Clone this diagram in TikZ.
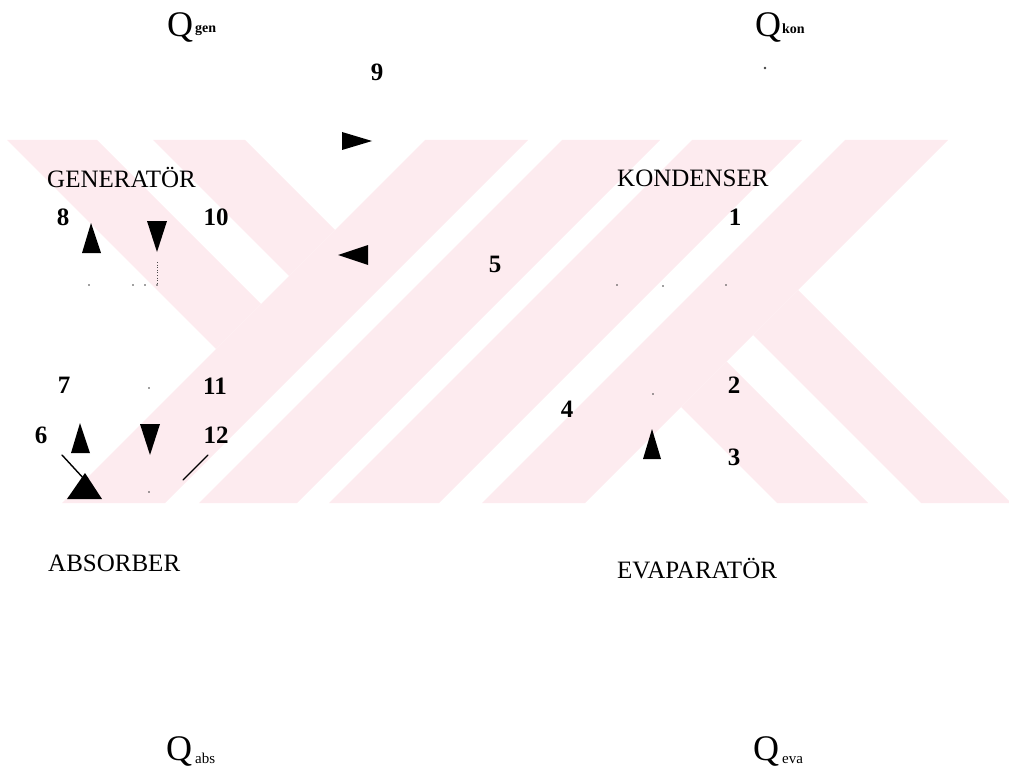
\documentclass[tikz,border=0pt]{standalone}
\usepackage{fontspec}
\setmainfont{Liberation Serif}
\definecolor{wm}{RGB}{253,235,239}
\tikzset{
  lbl/.style={font=\fontsize{25}{30}\selectfont, inner sep=0pt, anchor=base west},
  num/.style={font=\fontsize{25}{30}\selectfont\bfseries, inner sep=0pt, anchor=base},
  bigq/.style={font=\fontsize{36}{40}\selectfont, inner sep=0pt, anchor=base west},
  subb/.style={font=\fontsize{14}{16}\selectfont\bfseries, inner sep=0pt, anchor=base west},
  subr/.style={font=\fontsize{15}{17}\selectfont, inner sep=0pt, anchor=base west},
  tri/.style={fill=black},
  speck/.style={fill=black!75},
  stroke/.style={line width=1.4pt, line cap=round}
}
\begin{document}
\begin{tikzpicture}[x=1pt,y=-1pt]
\useasboundingbox (0,0) rectangle (1009,773);
% watermark
\begin{scope}
\clip (0,140) rectangle (1009,503);
\fill[wm] (7,140) -- (97,140) -- (261,304) -- (216,349) -- cycle;
\fill[wm] (153,140) -- (245,140) -- (335,230) -- (289,276) -- cycle;
\fill[wm] (425,140) -- (528,140) -- (165,503) -- (62,503) -- cycle;
\fill[wm] (562,140) -- (660,140) -- (297,503) -- (199,503) -- cycle;
\fill[wm] (692,140) -- (802,140) -- (439,503) -- (329,503) -- cycle;
\fill[wm] (845,140) -- (948,140) -- (585,503) -- (482,503) -- cycle;
\fill[wm] (681,407) -- (726.5,361.5) -- (868,503) -- (777,503) -- cycle;
\fill[wm] (753,335) -- (798,290) -- (1011,503) -- (921,503) -- cycle;
\end{scope}
% heat labels
\node[bigq] (qgen) at (167,37) {Q};
\node[subb] (qgens) at (195,33) {gen};
\node[bigq] (qkon) at (755,37) {Q};
\node[subb] (qkons) at (782,34) {kon};
\node[bigq] (qabs) at (166,760) {Q};
\node[subr] (qabss) at (195,763) {abs};
\node[bigq] (qeva) at (753,760) {Q};
\node[subr] (qevas) at (782,763) {eva};
% component labels
\node[lbl] (gen) at (47,187) {GENERATÖR};
\node[lbl] (kon) at (617,186) {KONDENSER};
\node[lbl] (abs) at (48,571) {ABSORBER};
\node[lbl] (eva) at (617,578) {EVAPARATÖR};
% state numbers
\node[num] (n9) at (377,81) {9};
\node[num] (n8) at (63,225) {8};
\node[num] (n10) at (216,225) {10};
\node[num] (n5) at (495,272) {5};
\node[num] (n1) at (735,225) {1};
\node[num] (n7) at (64,393) {7};
\node[num] (n11) at (215,394) {11};
\node[num] (n6) at (41,443) {6};
\node[num] (n12) at (216,443) {12};
\node[num] (n2) at (734,393) {2};
\node[num] (n3) at (734,465) {3};
\node[num] (n4) at (567,417) {4};
% arrowheads
\fill[tri] (342,132) -- (372,141) -- (342,150) -- cycle;
\fill[tri] (368,245) -- (338,255) -- (368,265) -- cycle;
\fill[tri] (91,223) -- (101,253) -- (82,253) -- cycle;
\fill[tri] (147,221) -- (167,221) -- (157,252) -- cycle;
\fill[tri] (80,423) -- (90,453) -- (71,453) -- cycle;
\fill[tri] (140,424) -- (160,424) -- (150,455) -- cycle;
\fill[tri] (85,473) -- (102,499) -- (67,499) -- cycle;
\fill[tri] (652,429) -- (661,459) -- (643,459) -- cycle;
% remaining strokes
\draw[stroke] (62,455) -- (85,480);
\draw[stroke] (183,480) -- (208,455);
% specks left by the scan
\fill[speck] (765,68) circle (1.3);
\draw[black!70, line width=0.6pt, dotted] (157,262) -- (157,285);
\foreach \p in {(89,285),(133,285),(145,285),(157,285),(149,388),(149,492),(653,394),(617,285),(663,286),(726,285)}
  \fill[speck] \p circle (0.8);
\end{tikzpicture}
\end{document}
